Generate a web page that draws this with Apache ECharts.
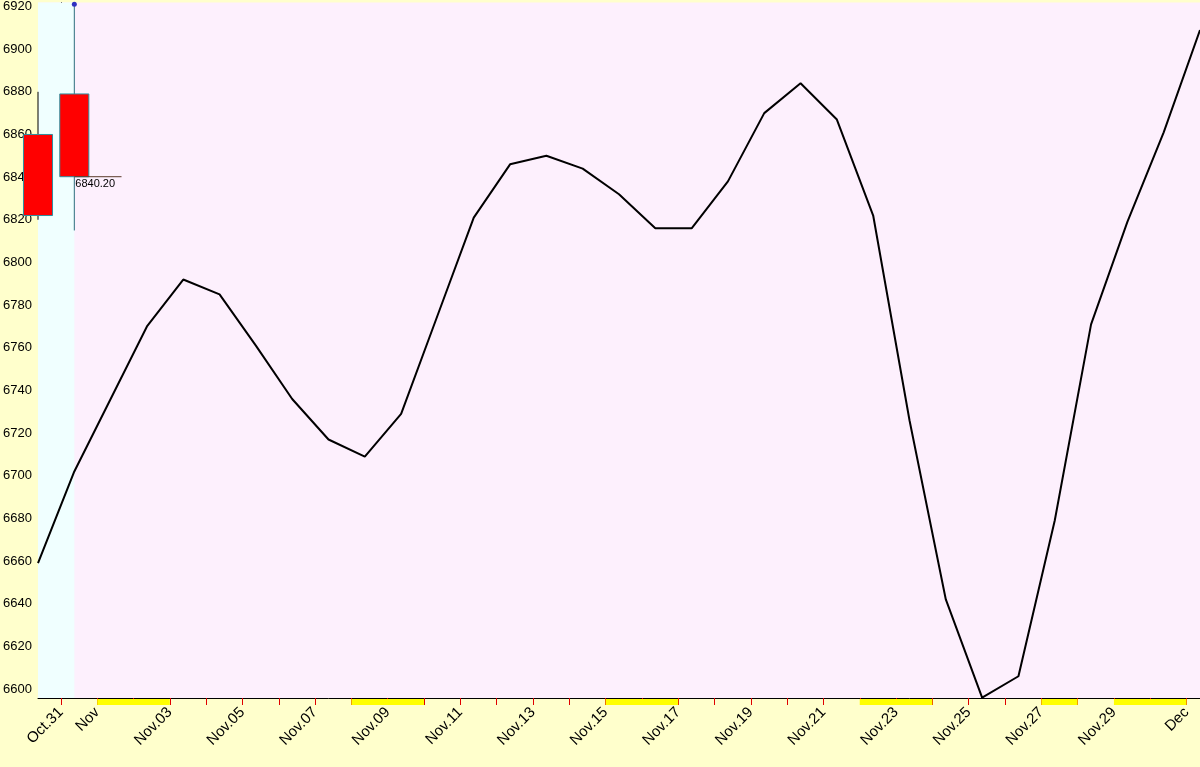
<!DOCTYPE html>
<html><head><meta charset="utf-8">
<script src="https://cdn.jsdelivr.net/npm/echarts@6/dist/echarts.min.js"></script>
<style>html,body{margin:0;padding:0;background:#FFFFCC}#c{width:1200px;height:767px}</style>
</head><body><div id="c"></div>
<script>
// x in days since Oct.31
const lineX = [-0.63,0.37,1.37,2.37,3.37,4.37,5.37,6.37,7.37,8.37,9.37,10.37,11.37,12.37,13.37,14.37,15.37,16.37,17.37,18.37,19.37,20.37,21.37,22.37,23.37,24.37,25.37,26.37,27.37,28.37,29.37,30.37,31.37];
const lineY = [6659,6702,6736,6770,6792,6785,6761,6736,6717,6709,6729,6775,6821,6846,6850,6844,6832,6816,6816,6838,6870,6884,6867,6822,6726,6642,6596,6606,6679,6771,6819,6861,6909];
const candleX = [-0.63,0.37];
const candleOHLC = [[6860,6822,6820,6880],[6879,6840.2,6815,6922]];
const tickLabels = {0:'Oct.31',1:'Nov',3:'Nov.03',5:'Nov.05',7:'Nov.07',9:'Nov.09',11:'Nov.11',13:'Nov.13',15:'Nov.15',17:'Nov.17',19:'Nov.19',21:'Nov.21',23:'Nov.23',25:'Nov.25',27:'Nov.27',29:'Nov.29',31:'Dec'};
const yLabels = [6600,6620,6640,6660,6680,6700,6720,6740,6760,6780,6800,6820,6840,6860,6880,6900,6920];
const yellowSpans = [[1,3],[8,10],[15,17],[22,24],[27,28],[29,31]];
const lastClose = 6840.2;

const chart = echarts.init(document.getElementById('c'));
const font = 'Liberation Sans';
chart.setOption({
  animation:false,
  backgroundColor:'#FFFFCC',
  grid:{left:38,right:0,top:0,bottom:69,show:true,backgroundColor:'#FDF0FD',borderWidth:0},
  xAxis:{type:'value',min:-0.63,max:31.37,
    axisLine:{show:true,lineStyle:{color:'#000'}},
    splitLine:{show:false},
    axisTick:{show:true,customValues:Array.from({length:32},(_, i)=>i),length:7,lineStyle:{color:'#E00000'}},
    axisLabel:{customValues:Object.keys(tickLabels).map(Number),formatter:v=>tickLabels[Math.round(v)]||'',rotate:45,margin:12,color:'#000',fontFamily:font,fontSize:15}},
  yAxis:{type:'value',min:6595.8,max:6921.9,
    axisLine:{show:true,lineStyle:{color:'#000'}},
    splitLine:{show:false},
    axisTick:{show:true,customValues:yLabels,length:5,lineStyle:{color:'#8B3A1A'}},
    axisLabel:{customValues:yLabels,formatter:v=>String(Math.round(v)),color:'#000',fontFamily:font,fontSize:13,margin:6}},
  series:[
    {type:'custom',silent:true,clip:false,z:1,data:[[ -0.63, 0.37 ]],
      renderItem:(p,api)=>{const a=api.coord([api.value(0),6921.9]);const b=api.coord([api.value(1),6595.8]);
        return {type:'rect',shape:{x:a[0],y:a[1],width:b[0]-a[0],height:b[1]-a[1]},style:{fill:'#F0FFFF'}};}},
    {type:'custom',silent:true,clip:false,z:2,data:yellowSpans,
      renderItem:(p,api)=>{const a=api.coord([api.value(0),6595.8]);const b=api.coord([api.value(1),6595.8]);
        return {type:'rect',shape:{x:a[0],y:a[1]+1,width:b[0]-a[0],height:6},style:{fill:'#FFFF00'}};}},
    {type:'custom',clip:false,z:3,data:candleX.map((x,i)=>[x,...candleOHLC[i]]),
      renderItem:(p,api)=>{const x=api.value(0),o=api.value(1),c=api.value(2),l=api.value(3),h=api.value(4);
        const w=api.size([1,0])[0]*0.8;
        const pH=api.coord([x,h]),pL=api.coord([x,l]),pO=api.coord([x,o]),pC=api.coord([x,c]);
        const ch=[{type:'line',shape:{x1:pH[0],y1:pH[1],x2:pL[0],y2:pL[1]},style:{stroke:p.dataIndex===1?'#2F6F7F':'#000',lineWidth:1}},
          {type:'rect',shape:{x:pO[0]-w/2,y:pO[1],width:w,height:pC[1]-pO[1]},style:{fill:'#FF0000',stroke:'#2F8F9F',lineWidth:1}}];
        if(p.dataIndex===1){ch.push({type:'circle',shape:{cx:pH[0],cy:pH[1]+2,r:2.5},style:{fill:'#3030C0'}});}
        return {type:'group',children:ch};}},
    {type:'custom',clip:false,z:4,data:[[0.37,lastClose]],
      renderItem:(p,api)=>{const a=api.coord([api.value(0),api.value(1)]);const b=api.coord([api.value(0)+1.3,api.value(1)]);
        return {type:'group',children:[{type:'line',shape:{x1:a[0],y1:a[1],x2:b[0],y2:b[1]},style:{stroke:'#5A3A2A',lineWidth:1}},
          {type:'text',x:a[0]+1,y:a[1]+2,style:{text:lastClose.toFixed(2),fill:'#000',font:'11px Liberation Sans'}}]};}},
    {type:'line',z:5,data:lineX.map((x,i)=>[x,lineY[i]]),symbol:'none',lineStyle:{color:'#000',width:2},clip:false}
  ]
});
</script></body></html>
